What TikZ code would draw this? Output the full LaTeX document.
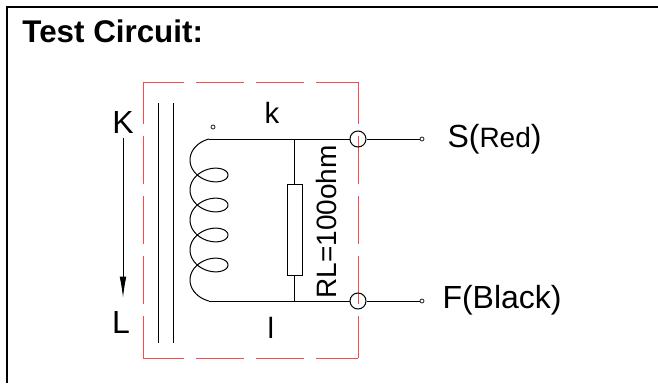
\documentclass[tikz,border=0pt]{standalone}
\usepackage{fontspec}
\setmainfont{Liberation Sans}
\usepackage{tikz}
\usetikzlibrary{arrows.meta}
\definecolor{rougecadre}{RGB}{255,72,72}

\begin{document}
\begin{tikzpicture}[x=0.75pt,y=-0.75pt,line width=0.75pt,
  lettre/.style={inner sep=0pt,font=\fontsize{24}{24}\selectfont},
  borne/.style={circle,draw,inner sep=0pt,minimum size=12pt},
  plot/.style={circle,draw,inner sep=0pt,minimum size=3pt,line width=0.5pt},
  boitier/.style={draw=rougecadre,dash pattern=on 36pt off 9pt}]
\useasboundingbox (0,0) rectangle (658,383);
% Cadre
\draw [line width=1.5pt] (7,383) -- (7,7) -- (658,7);
\node [anchor=base west,inner sep=0pt,font=\bfseries\fontsize{23.5}{24}\selectfont] (titre) at (22,42) {Test Circuit:};
% Boitier
\draw [boitier,dash phase=5.25pt] (143,82) -- (358,82);
\draw [boitier,dash phase=5.25pt] (143,358) -- (358,358);
\draw [boitier,dash phase=4.5pt] (143,82) -- (143,358);
\draw [boitier,dash phase=4.5pt] (358,82) -- (358,358);
% Noyau
\draw (158,103) -- (158,343);
\draw (173,103) -- (173,343);
% Primaire
\node [lettre] (K) at (123,122) {K};
\node [lettre] (L) at (121,322) {L};
\coordinate (fh) at (123,138);
\coordinate (fb) at (123,298);
\draw [-{Latex[length=16pt,width=5pt]}] (fh) -- (fb);
% Bobine
\coordinate (bh) at (209,139);
\coordinate (bb) at (209,301);
\draw plot[domain=0:28.2743,samples=241,smooth] ({209-19*sin(\x r)},{152.5-13.5*cos(\x r)+30*\x/6.28319});
\node [plot] (point) at (213,127) {};
\node [lettre,font=\fontsize{22}{22}\selectfont] (k) at (272,113) {k};
\node [lettre,font=\fontsize{22}{22}\selectfont] (l) at (271,328) {l};
% Charge
\node [draw,inner sep=0pt,minimum width=11.25pt,minimum height=68.25pt] (RL) at (294.5,229.5) {};
\draw [line width=1.3pt] (RL.north |- bh) -- (RL.north);
\draw [line width=1.3pt] (RL.south) -- (RL.south |- bb);
\node [lettre,font=\fontsize{21}{21}\selectfont,rotate=90] (valeur) at (326,222) {RL=100ohm};
% Bornes
\node [borne] (tS) at (358,139) {};
\node [borne] (tF) at (358,301) {};
\node [plot] (pS) at (422,139) {};
\node [plot] (pF) at (422,301) {};
\draw (bh) -- (tS);
\draw (bb) -- (tF);
\draw (tS) -- (pS);
\draw (tF) -- (pF);
\node [lettre,anchor=base west] (S) at (447,147) {S(\fontsize{21}{21}\selectfont Red\fontsize{24}{24}\selectfont)};
\node [lettre,anchor=base west] (F) at (442,308) {F(Black)};
\end{tikzpicture}
\end{document}
